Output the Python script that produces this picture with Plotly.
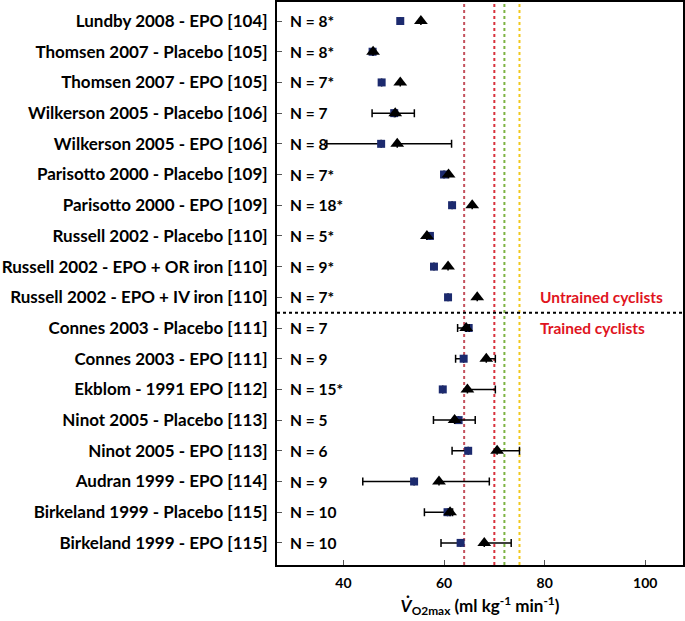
import plotly.graph_objects as go

studies = [
    "Lundby 2008 - EPO [104]",
    "Thomsen 2007 - Placebo [105]",
    "Thomsen 2007 - EPO [105]",
    "Wilkerson 2005 - Placebo [106]",
    "Wilkerson 2005 - EPO [106]",
    "Parisotto 2000 - Placebo [109]",
    "Parisotto 2000 - EPO [109]",
    "Russell 2002 - Placebo [110]",
    "Russell 2002 - EPO + OR iron [110]",
    "Russell 2002 - EPO + IV iron [110]",
    "Connes 2003 - Placebo [111]",
    "Connes 2003 - EPO [111]",
    "Ekblom - 1991 EPO [112]",
    "Ninot 2005 - Placebo [113]",
    "Ninot 2005 - EPO [113]",
    "Audran 1999 - EPO [114]",
    "Birkeland 1999 - Placebo [115]",
    "Birkeland 1999 - EPO [115]",
]
n_labels = ["N = 8*", "N = 8*", "N = 7*", "N = 7", "N = 8", "N = 7*", "N = 18*",
            "N = 5*", "N = 9*", "N = 7*", "N = 7", "N = 9", "N = 15*", "N = 5",
            "N = 6", "N = 9", "N = 10", "N = 10"]

# pre (squares) and post (triangles) VO2max values
pre_vals = [51.3, 45.8, 47.6, 50.1, 47.5, 60.0, 61.6, 57.2, 58.0, 60.8,
            64.9, 63.9, 59.75, 62.9, 64.8, 54.05, 60.7, 63.3]
pre_err = [0, 0, 0, 4.4, 10.8, 0, 0, 0, 0, 0,
           2.2, 1.6, 0, 5.0, 3.2, 10.2, 4.6, 3.9]
post_vals = [55.4, 45.9, 51.3, 50.3, 50.7, 60.9, 65.6, 56.6, 60.8, 66.6,
             64.4, 68.4, 64.65, 62.1, 70.55, 59.0, 61.2, 68.0]
post_err = [0, 0, 0, 3.8, 10.8, 0, 0, 0, 0, 0,
            0.6, 1.8, 5.55, 4.1, 4.45, 10.0, 0.5, 5.35]

ref_lines = [64, 70, 72, 75]
ref_colors = ["#c4505c", "#d8303c", "#7cb342", "#f2c81c"]

FONT = "Lato"

fig = go.Figure()

fig.add_trace(go.Scatter(
    x=pre_vals, y=studies, mode="markers",
    marker=dict(symbol="square", size=8, color="#1c2a6e"),
    error_x=dict(type="data", symmetric=False, array=[0] * len(pre_err),
                 arrayminus=pre_err, color="black", thickness=1.5, width=4),
    showlegend=False, hoverinfo="skip",
))
fig.add_trace(go.Scatter(
    x=post_vals, y=studies, mode="markers",
    marker=dict(symbol="triangle-up", size=12, color="black"),
    error_x=dict(type="data", symmetric=False, array=post_err,
                 arrayminus=[0] * len(post_err), color="black", thickness=1.5, width=4),
    showlegend=False, hoverinfo="skip",
))

for xv, c in zip(ref_lines, ref_colors):
    fig.add_shape(type="line", xref="x", yref="paper", x0=xv, x1=xv, y0=0, y1=1,
                  line=dict(color=c, width=2, dash="dot"), layer="below")

# separator between untrained and trained
fig.add_shape(type="line", xref="paper", yref="y", x0=0, x1=1, y0=9.5, y1=9.5,
              line=dict(color="black", width=2, dash="dot"))

for s, n in zip(studies, n_labels):
    fig.add_annotation(x=0.026, xref="paper", y=s, yref="y", text=n, showarrow=False,
                       xanchor="left", font=dict(family=FONT, size=15.5, color="black", weight="bold"))

fig.add_annotation(x=0.955, xref="paper", y=studies[9], yref="y", text="Untrained cyclists",
                   showarrow=False, xanchor="right",
                   font=dict(family=FONT, size=15.5, color="#e0141e", weight="bold"))
fig.add_annotation(x=0.642, xref="paper", y=studies[10], yref="y", text="Trained cyclists",
                   showarrow=False, xanchor="left",
                   font=dict(family=FONT, size=15.5, color="#e0141e", weight="bold"))

fig.update_layout(
    width=685, height=621,
    margin=dict(l=277, r=2, t=2, b=56),
    plot_bgcolor="white", paper_bgcolor="white",
    font=dict(family=FONT, size=14, color="black"),
    xaxis=dict(range=[26.8, 107.5], tickvals=[40, 60, 80, 100], ticks="inside",
               ticklen=5, tickcolor="#555", showgrid=False, zeroline=False,
               showline=True, linecolor="black", linewidth=2, mirror=True,
               automargin=False, ticklabelstandoff=4,
               tickfont=dict(family=FONT, size=14, weight="bold"),
               title=dict(text="<i>V̇</i><sub>O2max</sub> (ml kg<sup>-1</sup> min<sup>-1</sup>)",
                          font=dict(family=FONT, size=17, weight="bold"), standoff=10)),
    yaxis=dict(type="category", categoryorder="array", categoryarray=studies,
               range=[17.72, -0.62], ticks="inside", ticklen=5, tickcolor="#555",
               showgrid=False, zeroline=False, showline=True, linecolor="black",
               linewidth=2, mirror=True, automargin=False, ticklabelstandoff=4,
               tickfont=dict(family=FONT, size=17, weight="bold")),
)

fig.write_html("out.html", config={"displayModeBar": False},
               post_script="document.body.style.margin='0px';")
